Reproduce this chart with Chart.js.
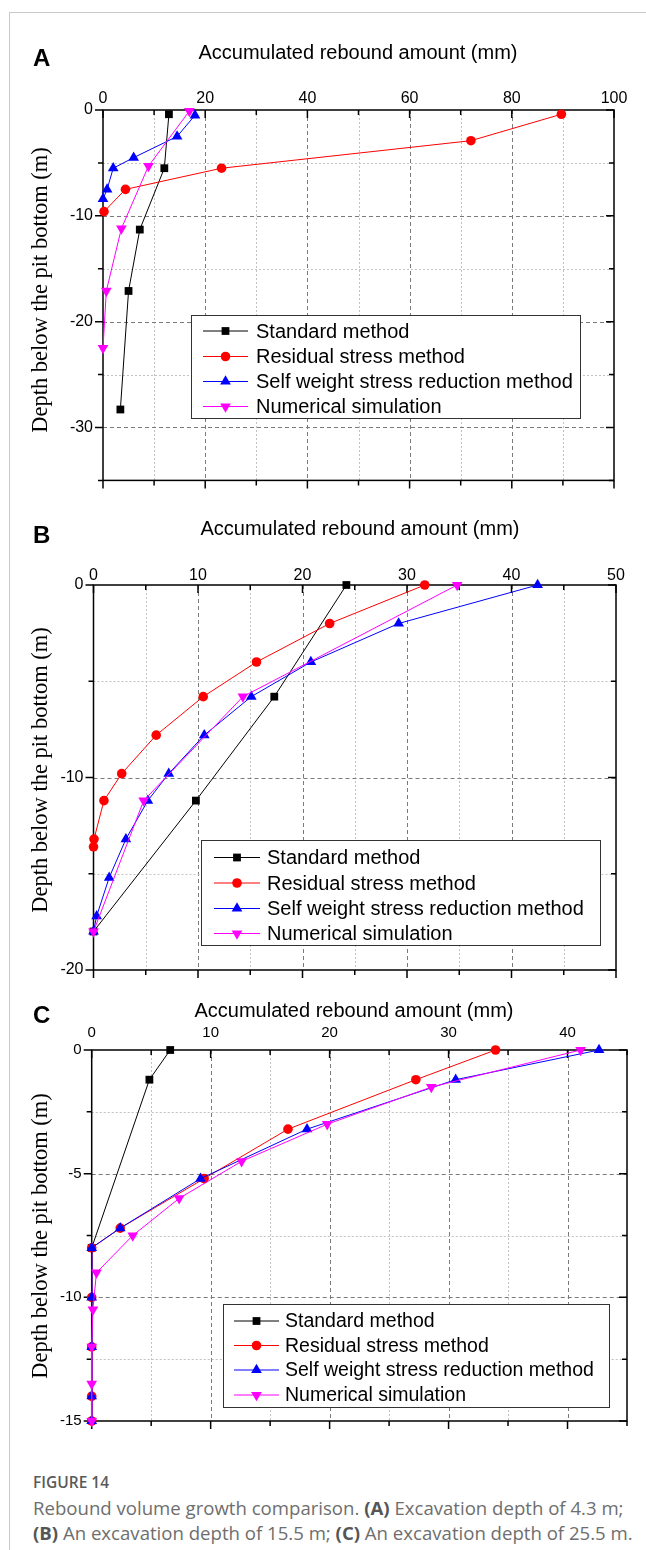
<!DOCTYPE html>
<html>
<head>
<meta charset="utf-8">
<script src="https://cdn.jsdelivr.net/npm/chart.js@4.4.1/dist/chart.umd.min.js"></script>
<style>
  html, body { margin: 0; padding: 0; background: #fff; }
  #page { position: relative; width: 646px; height: 1550px; overflow: hidden; font-family: "Liberation Sans", Arial, sans-serif; color: #000; }
  .frame { position: absolute; left: 9px; top: 12px; right: 0; bottom: 0; border-left: 1px solid #c8c8c8; border-top: 1px solid #c8c8c8; }
  canvas { position: absolute; left: 0; }
  .letter { position: absolute; left: 33px; font: bold 24px "Liberation Sans", Arial, sans-serif; transform: translateY(-50%); }
  .title { position: absolute; font-size: 20px; white-space: nowrap; transform: translate(-50%, -50%); }
  .ytitle { position: absolute; font: 22.5px "Liberation Serif", "Times New Roman", serif; white-space: nowrap; transform: translate(-50%, -50%) rotate(-90deg); }
  .cap { position: absolute; left: 33px; font-family: "Open Sans", sans-serif; color: #6e6e6e; white-space: nowrap; transform: translateY(-50%); }
  .cap b { color: #555; }
  .cap.head { font-size: 15.5px; font-weight: 600; color: #5a5a5a; }
  .cap.body { font-size: 18.6px; }
</style>
</head>
<body>
<div id="page">
  <div class="frame"></div>

  <canvas id="chartA" width="646" height="500" style="top:0px"></canvas>
  <canvas id="chartB" width="646" height="490" style="top:500px"></canvas>
  <canvas id="chartC" width="646" height="450" style="top:990px"></canvas>

  <div class="letter" style="top:58px">A</div>
  <div class="title" style="left:358px; top:52px">Accumulated rebound amount (mm)</div>
  <div class="ytitle" style="left:40px; top:290px">Depth below the pit bottom (m)</div>

  <div class="letter" style="top:535px">B</div>
  <div class="title" style="left:360px; top:528px">Accumulated rebound amount (mm)</div>
  <div class="ytitle" style="left:40px; top:770px">Depth below the pit bottom (m)</div>

  <div class="letter" style="top:1015px">C</div>
  <div class="title" style="left:354px; top:1010px">Accumulated rebound amount (mm)</div>
  <div class="ytitle" style="left:40px; top:1236px">Depth below the pit bottom (m)</div>

  <div class="cap head" style="top:1482px">FIGURE 14</div>
  <div class="cap body" style="top:1507px">Rebound volume growth comparison. <b>(A)</b> Excavation depth of 4.3 m;</div>
  <div class="cap body" style="top:1532px"><b>(B)</b> An excavation depth of 15.5 m; <b>(C)</b> An excavation depth of 25.5 m.</div>
</div>

<script>
// ---------- series names ----------
const seriesNames = ['Standard method', 'Residual stress method', 'Self weight stress reduction method', 'Numerical simulation'];

// ---------- A: excavation depth 4.3 m ----------
const depthA_std = [-0.4, -5.5, -11.3, -17.1, -28.3];
const stdA = [12.9, 12.0, 7.2, 5.0, 3.4];
const depthA_res = [-0.4, -2.9, -5.5, -7.5, -9.6];
const resA = [89.7, 72.0, 23.2, 4.4, 0.2];
const depthA_sw = [-0.5, -2.5, -4.5, -5.5, -7.5, -8.4];
const swA = [18.0, 14.5, 6.0, 2.0, 0.8, 0.0];
const depthA_num = [-0.1, -5.3, -11.2, -17.1, -22.5];
const numA = [16.9, 8.9, 3.6, 0.65, 0.0];

// ---------- B: excavation depth 15.5 m ----------
const depthB_std = [0, -5.8, -11.2, -18];
const stdB = [24.2, 17.3, 9.8, 0];
const depthB_res = [0, -2, -4, -5.8, -7.8, -9.8, -11.2, -13.2, -13.6];
const resB = [31.7, 22.6, 15.6, 10.5, 6.0, 2.7, 1.0, 0.05, 0];
const depthB_sw = [0, -2, -4, -5.8, -7.8, -9.8, -11.2, -13.2, -15.2, -17.2, -18];
const swB = [42.5, 29.2, 20.8, 15.1, 10.6, 7.2, 5.2, 3.1, 1.5, 0.3, 0];
const depthB_num = [0, -5.8, -11.2, -18];
const numB = [34.8, 14.3, 4.8, 0];

// ---------- C: excavation depth 25.5 m ----------
const depthC_std = [0, -1.2, -8];
const stdC = [6.6, 4.85, 0];
const depthC_res = [0, -1.2, -3.2, -5.2, -7.2, -8, -10, -12, -14, -15];
const resC = [33.95, 27.25, 16.5, 9.45, 2.4, 0, 0, 0, 0, 0];
const depthC_sw = [0, -1.2, -3.2, -5.2, -7.2, -8, -10, -12, -14, -15];
const swC = [42.65, 30.6, 18.1, 9.15, 2.4, 0, 0, 0, 0, 0];
const depthC_num = [0, -1.5, -3, -4.5, -6, -7.5, -9, -10.5, -12, -13.5, -15];
const numC = [41.1, 28.55, 19.8, 12.6, 7.35, 3.45, 0.4, 0.1, 0, 0, 0];

// ---------- axes ----------
const xTicksA = { max: 100, step: 10, label: 20 };
const yTicksA = { min: -35, step: 5, label: 10 };
const xTicksB = { max: 50, step: 5, label: 10 };
const yTicksB = { min: -20, step: 5, label: 10 };
const xTicksC = { max: 45, step: 5, label: 10 };
const yTicksC = { min: -15, step: 2.5, label: 5 };

// marker look per series
const styles = [
  { color: '#000000', pointStyle: 'rect', radius: 5.5, rotation: 0 },
  { color: '#ff0000', pointStyle: 'circle', radius: 4.8, rotation: 0 },
  { color: '#0000ff', pointStyle: 'triangle', radius: 6.2, rotation: 0 },
  { color: '#ff00ff', pointStyle: 'triangle', radius: 6.2, rotation: 180 }
];

function isMajor(v, step) {
  const r = Math.abs(v / step);
  return Math.abs(r - Math.round(r)) < 1e-6;
}

function pts(xs, ys) {
  return xs.map((v, i) => ({ x: v, y: ys[i] }));
}

// frame, dashed grid and tick marks (all ticks point down / left like the original plot)
const axisFrame = {
  id: 'axisFrame',
  beforeDatasetsDraw(chart, args, o) {
    const { ctx, chartArea: a, scales: { x, y } } = chart;
    ctx.save();
    ctx.lineWidth = 1;

    x.ticks.forEach(t => {
      const px = Math.round(x.getPixelForValue(t.value)) + 0.5;
      if (px <= a.left + 1 || px >= a.right - 1) return;
      const major = isMajor(t.value, o.xLabel);
      ctx.strokeStyle = major ? '#7a7a7a' : '#c2c2c2';
      ctx.setLineDash(major ? [4, 3] : [2, 2]);
      ctx.beginPath(); ctx.moveTo(px, a.top); ctx.lineTo(px, a.bottom); ctx.stroke();
    });
    y.ticks.forEach(t => {
      const py = Math.round(y.getPixelForValue(t.value)) + 0.5;
      if (py <= a.top + 1 || py >= a.bottom - 1) return;
      const major = isMajor(t.value, o.yLabel);
      ctx.strokeStyle = major ? '#7a7a7a' : '#c2c2c2';
      ctx.setLineDash(major ? [4, 3] : [2, 2]);
      ctx.beginPath(); ctx.moveTo(a.left, py); ctx.lineTo(a.right, py); ctx.stroke();
    });

    ctx.setLineDash([]);
    ctx.strokeStyle = '#000';
    ctx.lineWidth = 1.5;
    ctx.strokeRect(a.left, a.top, a.right - a.left, a.bottom - a.top);

    x.ticks.forEach(t => {
      const px = x.getPixelForValue(t.value);
      const len = isMajor(t.value, o.xLabel) ? 8 : 5;
      ctx.beginPath();
      ctx.moveTo(px, a.top); ctx.lineTo(px, a.top + len);
      ctx.moveTo(px, a.bottom); ctx.lineTo(px, a.bottom + len);
      ctx.stroke();
    });
    y.ticks.forEach(t => {
      const py = y.getPixelForValue(t.value);
      const len = isMajor(t.value, o.yLabel) ? 8 : 5;
      ctx.beginPath();
      ctx.moveTo(a.left - len, py); ctx.lineTo(a.left, py);
      ctx.moveTo(a.right - len, py); ctx.lineTo(a.right, py);
      ctx.stroke();
    });
    ctx.restore();
  }
};

// boxed legend placed inside the plot
const boxLegend = {
  id: 'boxLegend',
  afterDraw(chart, args, o) {
    const ctx = chart.ctx;
    ctx.save();
    ctx.fillStyle = '#fff';
    ctx.fillRect(o.left, o.top, o.width, o.height);
    ctx.strokeStyle = '#333';
    ctx.lineWidth = 1;
    ctx.strokeRect(o.left + 0.5, o.top + 0.5, o.width, o.height);

    chart.data.datasets.forEach((ds, i) => {
      const yy = o.rows[i];
      ctx.strokeStyle = ds.borderColor;
      ctx.lineWidth = 1;
      ctx.beginPath(); ctx.moveTo(o.lineFrom, yy); ctx.lineTo(o.lineTo, yy); ctx.stroke();
      ctx.fillStyle = ds.pointBackgroundColor;
      Chart.helpers.drawPoint(ctx, {
        pointStyle: ds.pointStyle, rotation: ds.pointRotation,
        radius: ds.pointRadius, borderWidth: 0
      }, (o.lineFrom + o.lineTo) / 2, yy);
      ctx.fillStyle = '#000';
      ctx.font = o.fontSize + 'px "Liberation Sans", Arial, sans-serif';
      ctx.textBaseline = 'middle';
      ctx.textAlign = 'left';
      ctx.fillText(ds.label, o.textX, yy + 1);
    });
    ctx.restore();
  }
};

function makeChart(id, canvasH, area, xt, yt, tickFont, xPad, series, legend) {
  const datasets = series.map((s, i) => ({
    label: seriesNames[i],
    data: s,
    showLine: true,
    borderColor: styles[i].color,
    backgroundColor: styles[i].color,
    pointBackgroundColor: styles[i].color,
    pointBorderWidth: 0,
    pointStyle: styles[i].pointStyle,
    pointRotation: styles[i].rotation,
    pointRadius: styles[i].radius,
    borderWidth: 1,
    tension: 0,
    clip: false,
    order: -i
  }));

  return new Chart(document.getElementById(id), {
    type: 'scatter',
    data: { datasets },
    plugins: [axisFrame, boxLegend],
    options: {
      responsive: false,
      animation: false,
      events: [],
      layout: { padding: { left: 0, top: 0, right: 646 - area.right, bottom: canvasH - area.bottom } },
      plugins: {
        legend: { display: false },
        tooltip: { enabled: false },
        axisFrame: { xLabel: xt.label, yLabel: yt.label },
        boxLegend: legend
      },
      scales: {
        x: {
          type: 'linear', position: 'top', min: 0, max: xt.max,
          grid: { display: false, drawTicks: false }, border: { display: false },
          ticks: {
            stepSize: xt.step, padding: xPad, color: '#000',
            font: { family: '"Liberation Sans", Arial, sans-serif', size: tickFont },
            maxRotation: 0, autoSkip: false,
            callback: v => isMajor(v, xt.label) ? v : ''
          },
          afterFit: s => { s.height = area.top; }
        },
        y: {
          type: 'linear', min: yt.min, max: 0,
          grid: { display: false, drawTicks: false }, border: { display: false },
          ticks: {
            stepSize: yt.step, padding: 10, color: '#000',
            font: { family: '"Liberation Sans", Arial, sans-serif', size: tickFont },
            autoSkip: false,
            callback: v => isMajor(v, yt.label) ? v : ''
          },
          afterFit: s => { s.width = area.left; }
        }
      }
    }
  });
}

makeChart('chartA', 500, { left: 103, top: 110, right: 614, bottom: 488 }, xTicksA, yTicksA, 16, 2,
  [pts(stdA, depthA_std), pts(resA, depthA_res), pts(swA, depthA_sw), pts(numA, depthA_num)],
  { left: 191, top: 315, width: 389, height: 103, rows: [331, 356.5, 381.5, 406.5], lineFrom: 203, lineTo: 248, textX: 256, fontSize: 20 });

makeChart('chartB', 490, { left: 93.5, top: 85, right: 616, bottom: 470 }, xTicksB, yTicksB, 16, 0,
  [pts(stdB, depthB_std), pts(resB, depthB_res), pts(swB, depthB_sw), pts(numB, depthB_num)],
  { left: 201, top: 340, width: 399, height: 105, rows: [357.5, 383, 408.5, 433.5], lineFrom: 214, lineTo: 260, textX: 267, fontSize: 20 });

makeChart('chartC', 450, { left: 91.7, top: 60, right: 627, bottom: 433 }, xTicksC, yTicksC, 15, 8,
  [pts(stdC, depthC_std), pts(resC, depthC_res), pts(swC, depthC_sw), pts(numC, depthC_num)],
  { left: 223, top: 314, width: 386, height: 103, rows: [331, 355.5, 380, 405], lineFrom: 234, lineTo: 279, textX: 285, fontSize: 19.5 });
</script>
</body>
</html>
